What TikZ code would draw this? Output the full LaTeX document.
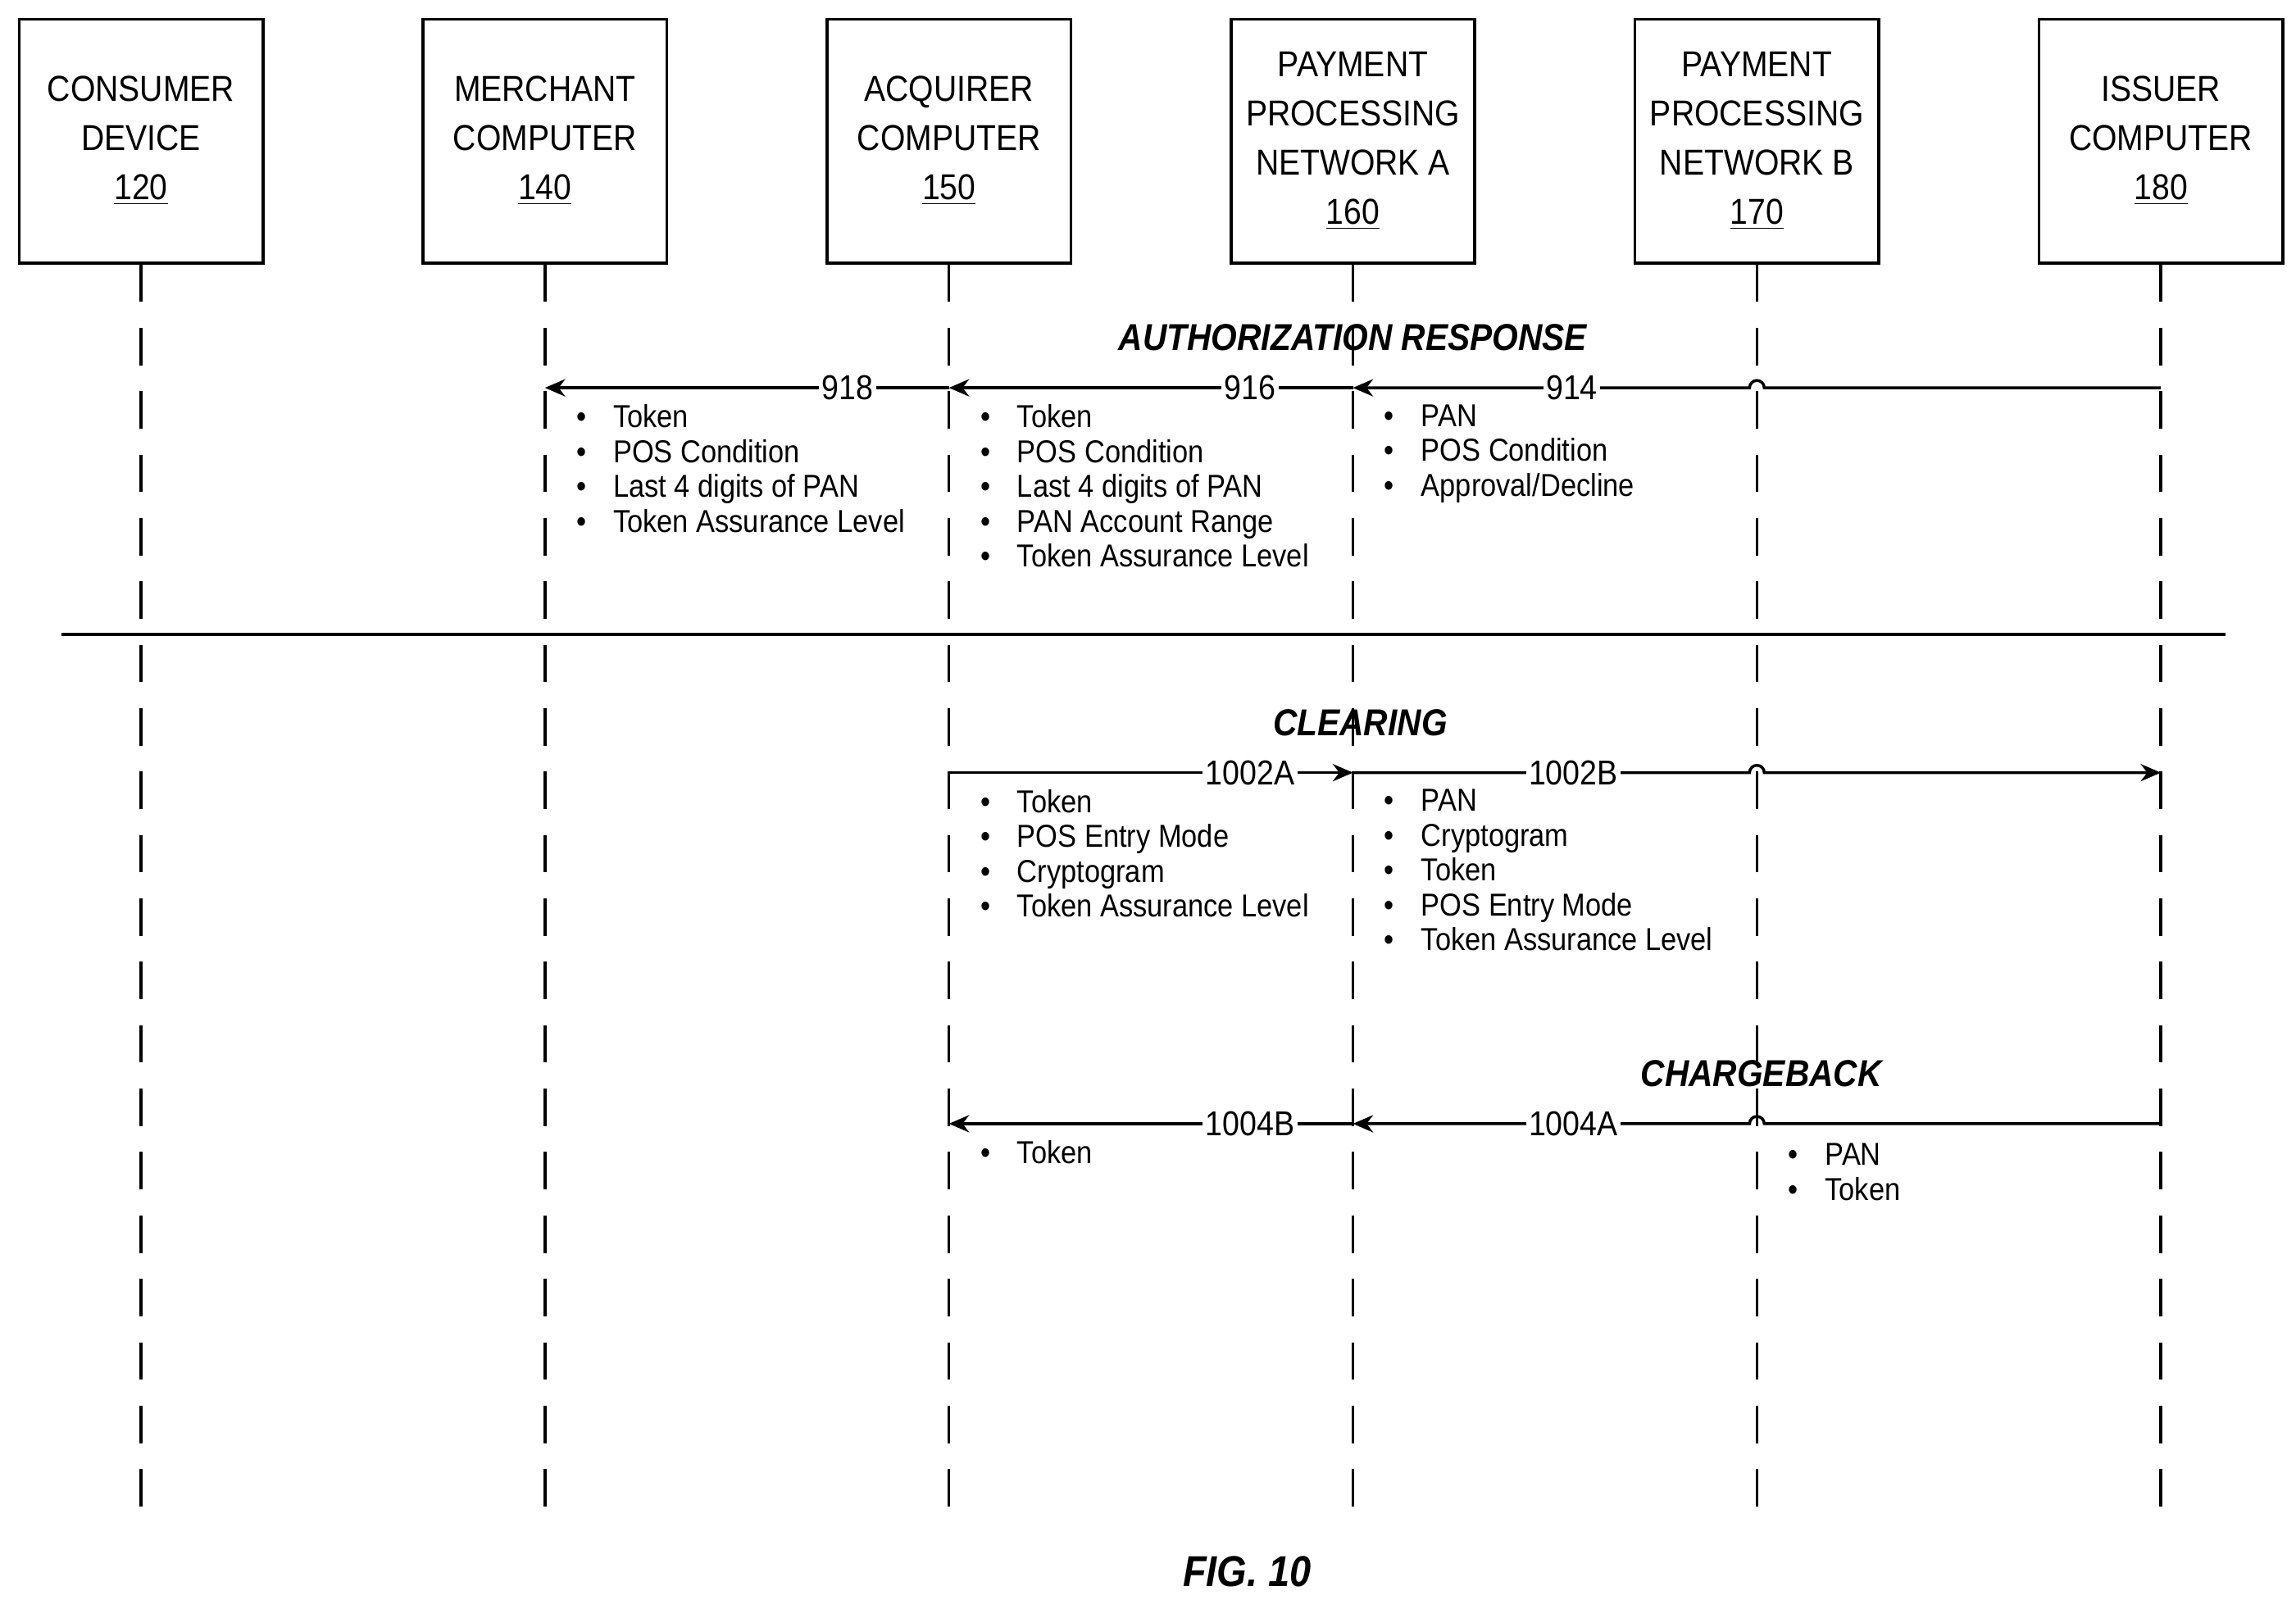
\documentclass[tikz,border=0pt]{standalone}
\usepackage{fontspec}
\setmainfont[FakeStretch=0.89]{Liberation Sans}
\usetikzlibrary{arrows.meta,calc}
\newcommand{\bul}{\textbullet\hspace{0.85em}}
\begin{document}
\begin{tikzpicture}[x=0.01792cm,y=-0.01792cm,
  box/.style={draw,line width=1pt,minimum width=166*0.01792cm,minimum height=166*0.01792cm,align=center,font=\fontsize{12.5}{17}\selectfont,inner sep=0pt},
  life/.style={line width=1pt,dash pattern=on 13pt off 9pt},
  msg/.style={line width=1pt,-{Stealth[length=7pt,width=6pt]}},
  lab/.style={fill=white,inner sep=1pt,font=\fontsize{12}{14}\selectfont},
  title/.style={font=\bfseries\itshape\fontsize{13}{15}\selectfont},
  blist/.style={anchor=north west,align=left,font=\fontsize{11}{12.1}\selectfont,inner sep=0pt}]
\useasboundingbox (0,0) rectangle (1563,1089);
\foreach \n/\x/\t in {c/96/{CONSUMER\\DEVICE\\\underline{120}},m/371/{MERCHANT\\COMPUTER\\\underline{140}},a/646/{ACQUIRER\\COMPUTER\\\underline{150}},pa/921/{PAYMENT\\PROCESSING\\NETWORK A\\\underline{160}},pb/1196/{PAYMENT\\PROCESSING\\NETWORK B\\\underline{170}},i/1471/{ISSUER\\COMPUTER\\\underline{180}}}{
  \node[box] (\n) at (\x,96) {\t};
  \coordinate (\n e) at (\x,1030);
  \draw[life] (\n.south) -- (\n e);
  \coordinate (\n1) at (\x,264);
  \coordinate (\n2) at (\x,526);
  \coordinate (\n3) at (\x,765);
}
\coordinate (hl) at (42,432); \coordinate (hr) at (1515,432);
\draw[line width=1pt] (hl) -- (hr);
% Authorization response
\node[title] (t1) at (921,230) {AUTHORIZATION RESPONSE};
\draw[msg] (i1) -- ($(pb1)+(5,0)$) arc(0:-180:5) -- (pa1);
\draw[msg] (pa1) -- (a1);
\draw[msg] (a1) -- (m1);
\node[lab] (l914) at (1070,264) {914};
\node[lab] (l916) at (851,264) {916};
\node[lab] (l918) at (577,264) {918};
\node[blist] (b918) at (392,275) {\bul Token\\\bul POS Condition\\\bul Last 4 digits of PAN\\\bul Token Assurance Level};
\node[blist] (b916) at (667,275) {\bul Token\\\bul POS Condition\\\bul Last 4 digits of PAN\\\bul PAN Account Range\\\bul Token Assurance Level};
\node[blist] (b914) at (942,275) {\bul PAN\\\bul POS Condition\\\bul Approval/Decline};
% Clearing
\node[title] (t2) at (926,492) {CLEARING};
\draw[msg] (a2) -- (pa2);
\draw[msg] (pa2) -- ($(pb2)+(-5,0)$) arc(180:360:5) -- (i2);
\node[lab] (l1002a) at (851,526) {1002A};
\node[lab] (l1002b) at (1071,526) {1002B};
\node[blist] (b1002a) at (667,537) {\bul Token\\\bul POS Entry Mode\\\bul Cryptogram\\\bul Token Assurance Level};
\node[blist] (b1002b) at (942,537) {\bul PAN\\\bul Cryptogram\\\bul Token\\\bul POS Entry Mode\\\bul Token Assurance Level};
% Chargeback
\node[title] (t3) at (1199,731) {CHARGEBACK};
\draw[msg] (i3) -- ($(pb3)+(5,0)$) arc(0:-180:5) -- (pa3);
\draw[msg] (pa3) -- (a3);
\node[lab] (l1004a) at (1071,765) {1004A};
\node[lab] (l1004b) at (851,765) {1004B};
\node[blist] (b1004b) at (667,776) {\bul Token};
\node[blist] (b1004a) at (1217,778) {\bul PAN\\\bul Token};
\node[title,font=\bfseries\itshape\fontsize{15}{17}\selectfont] (fig) at (849,1070) {FIG. 10};
\end{tikzpicture}
\end{document}
